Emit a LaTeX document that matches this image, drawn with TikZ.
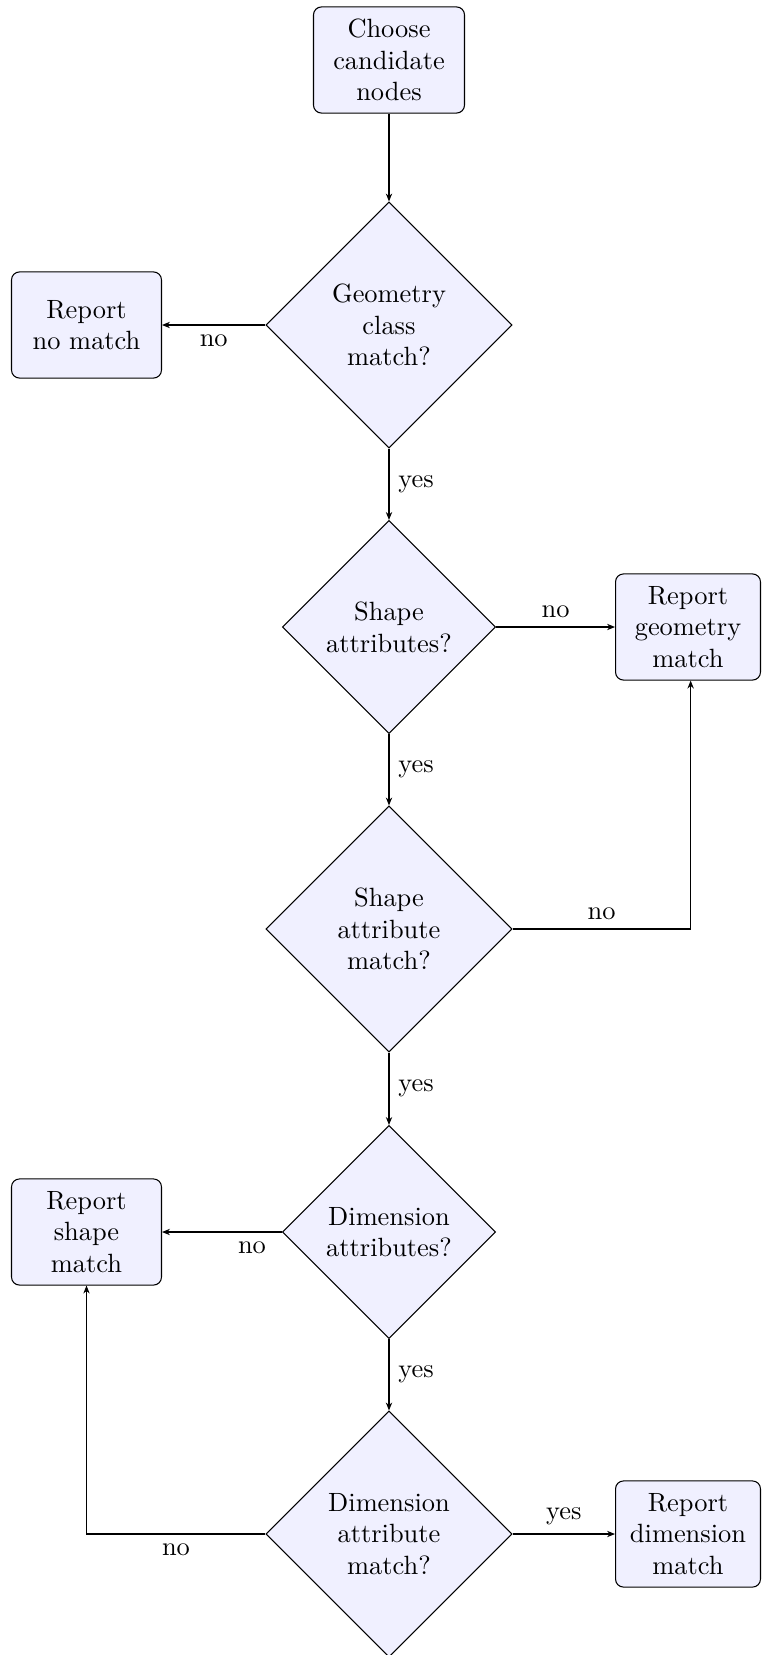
\documentclass[tikz,border=0pt]{standalone}
\usetikzlibrary{shapes.geometric,arrows.meta}
\begin{document}
\begin{tikzpicture}[x=0.3788pt,y=-0.3788pt,
  box/.style={draw,rounded corners=3pt,fill=blue!6,align=center,inner sep=0pt,minimum height=40.2pt},
  dec/.style={draw,shape=diamond,fill=blue!6,align=center,inner sep=0pt},
  big/.style={minimum width=93.2pt,minimum height=93.2pt},
  small/.style={minimum width=80.7pt,minimum height=80.7pt},
  arr/.style={-{Stealth[length=3pt,width=2.4pt]},line width=0.4pt}]
\useasboundingbox (0,0) rectangle (761,1655);
\node[box,minimum width=57.2pt] (choose) at (389,60) {Choose\\candidate\\nodes};
\node[dec,big] (d1) at (389,325) {Geometry\\class\\match?};
\node[box,minimum width=56.8pt] (nomatch) at (86.5,325) {Report\\no match};
\node[dec,small] (d2) at (389,627) {Shape\\attributes?};
\node[box,minimum width=54.9pt] (geom) at (688,627) {Report\\geometry\\match};
\node[dec,big] (d3) at (389,929) {Shape\\attribute\\match?};
\node[dec,small] (d4) at (389,1232) {Dimension\\attributes?};
\node[box,minimum width=56.8pt] (shapem) at (86.5,1232) {Report\\shape\\match};
\node[dec,big] (d5) at (389,1534) {Dimension\\attribute\\match?};
\node[box,minimum width=54.9pt] (dimm) at (688,1534) {Report\\dimension\\match};
\draw[arr] (choose) -- (d1);
\draw[arr] (d1) -- node[below] {no} (nomatch);
\draw[arr] (d1) -- node[right] {yes} (d2);
\draw[arr] (d2) -- node[above] {no} (geom);
\draw[arr] (d2) -- node[right] {yes} (d3);
\draw[arr] (d3.east) -| node[pos=0.25,above] {no} ([xshift=1pt]geom.south);
\draw[arr] (d3) -- node[right] {yes} (d4);
\draw[arr] (d4) -- node[pos=0.25,below] {no} (shapem);
\draw[arr] (d4) -- node[right] {yes} (d5);
\draw[arr] (d5.west) -| node[pos=0.25,below] {no} (shapem.south);
\draw[arr] (d5) -- node[above] {yes} (dimm);
\end{tikzpicture}
\end{document}
